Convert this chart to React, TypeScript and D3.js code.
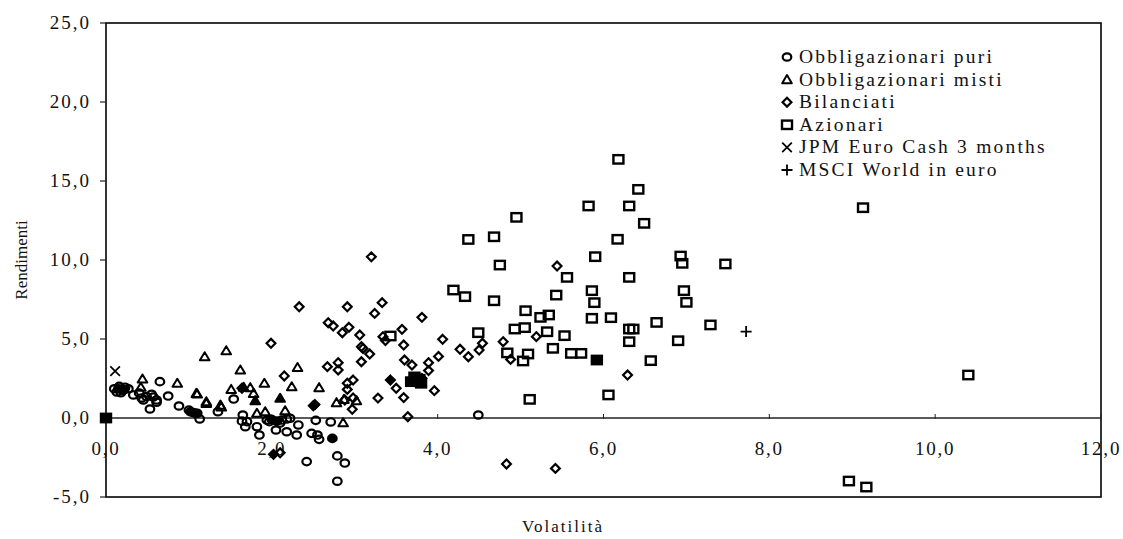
import React from "react";
import * as d3 from "d3";

// ---- data (Volatilità, Rendimenti) ----
const obbligazionariPuri: [number, number][] = [
  [0.10, 1.85], [0.13, 1.65], [0.16, 2.0], [0.2, 1.75], [0.23, 1.95], [0.27, 1.85], [0.18, 1.6],
  [0.33, 1.46], [0.4, 1.58], [0.43, 1.27], [0.45, 1.14], [0.49, 1.35], [0.53, 0.57], [0.57, 1.33],
  [0.61, 1.0], [0.61, 1.14], [0.65, 2.3], [0.55, 1.5], [0.75, 1.39], [0.88, 0.76],
  [1.0, 0.5], [1.05, 0.35], [1.1, 0.3], [1.13, -0.06], [1.35, 0.4], [1.54, 1.2],
  [1.64, -0.2], [1.65, 0.19], [1.7, -0.23], [1.68, -0.55], [1.82, -0.55], [1.85, -1.08], [1.94, -0.13],
  [1.97, -0.23], [2.05, -0.76], [2.1, -0.32], [2.12, -0.13], [2.18, -0.87], [2.18, -0.06], [2.22, -0.02],
  [2.3, -1.08], [2.32, -0.44], [2.42, -2.76], [2.48, -0.97], [2.53, -0.15], [2.55, -1.08], [2.57, -1.35],
  [2.71, -0.25], [2.79, -2.4], [2.88, -2.85], [2.79, -4.0], [4.49, 0.19],
];
const obbligazionariMisti: [number, number][] = [
  [0.44, 2.47], [0.42, 1.95], [0.86, 2.2], [1.09, 1.56], [1.1, 1.52], [1.21, 1.03], [1.21, 0.93],
  [1.19, 3.88], [1.45, 4.26], [1.38, 0.82], [1.39, 0.7], [1.62, 3.04], [1.51, 1.81], [1.74, 1.92],
  [1.78, 1.56], [1.82, 0.3], [1.92, 0.4], [1.91, 2.2], [2.16, 0.46], [2.24, 1.98], [2.31, 3.2],
  [2.57, 1.92], [2.78, 0.97], [2.87, 1.18], [3.02, 1.1], [2.86, -0.3],
];
const bilanciati: [number, number][] = [
  [1.64, 1.88], [1.99, 4.73], [2.15, 2.66], [2.1, -2.2], [2.33, 7.04], [2.52, 0.85], [2.67, 3.25],
  [2.68, 6.03], [2.74, 5.82], [2.8, 3.5], [2.8, 3.04], [2.85, 5.4], [2.91, 7.04], [2.88, 1.14],
  [2.91, 1.81], [2.91, 2.2], [2.98, 2.4], [2.97, 0.55], [2.98, 1.27], [2.93, 5.74], [3.06, 5.25],
  [3.08, 4.51], [3.08, 3.56], [3.1, 4.4], [3.18, 4.05], [3.2, 10.2], [3.24, 6.62], [3.28, 1.26],
  [3.33, 7.3], [3.34, 5.15], [3.37, 4.9], [3.5, 1.88], [3.57, 5.61], [3.59, 4.62], [3.6, 3.67],
  [3.69, 3.35], [3.59, 1.29], [3.64, 0.08], [3.81, 2.51], [3.81, 6.37], [3.89, 3.5], [3.89, 3.0],
  [3.96, 1.73], [4.01, 3.9], [4.06, 4.98], [4.27, 4.35], [4.37, 3.88], [4.5, 4.3], [4.54, 4.73],
  [4.79, 4.83], [4.88, 3.71], [4.83, -2.91], [5.19, 5.15], [5.42, -3.19], [5.44, 9.62], [6.29, 2.72],
];
const azionari: [number, number][] = [
  [3.43, 5.19], [4.19, 8.1], [4.33, 7.68], [4.37, 11.3], [4.49, 5.4], [4.68, 11.47], [4.68, 7.42],
  [4.75, 9.68], [4.84, 4.12], [4.93, 5.63], [4.95, 12.7], [5.03, 3.61], [5.05, 5.72], [5.06, 6.79],
  [5.09, 4.05], [5.11, 1.18], [5.24, 6.37], [5.32, 5.46], [5.34, 6.52], [5.39, 4.41], [5.43, 7.78],
  [5.53, 5.21], [5.56, 8.9], [5.61, 4.09], [5.73, 4.09], [5.82, 13.42], [5.86, 8.06], [5.89, 7.3],
  [5.86, 6.31], [5.9, 10.21], [6.06, 1.46], [6.09, 6.35], [6.17, 11.31], [6.18, 16.37], [6.31, 13.42],
  [6.31, 8.9], [6.31, 5.63], [6.36, 5.63], [6.31, 4.83], [6.42, 14.47], [6.49, 12.32], [6.57, 3.63],
  [6.64, 6.05], [6.9, 4.89], [6.93, 10.25], [6.95, 9.79], [6.97, 8.06], [7.0, 7.32], [7.29, 5.89],
  [7.47, 9.75], [8.96, -3.99], [9.13, 13.31], [9.17, -4.37], [10.4, 2.72],
];
const jpmEuroCash: [number, number][] = [[0.11, 2.97]];
const msciWorld: [number, number][] = [[7.72, 5.47]];

// filled (highlighted) markers
const puriPieni: [number, number][] = [[0.15, 1.85], [0.22, 1.8], [1.02, 0.4], [1.08, 0.3], [2.0, -0.1], [2.06, -0.2], [2.73, -1.29]];
const mistiPieni: [number, number][] = [[1.8, 1.1], [2.1, 1.25], [1.66, 1.95]];
const bilanciatiPieni: [number, number][] = [[3.43, 2.4], [2.02, -2.3], [2.5, 0.78]];
const azionariPieni: [number, number][] = [[0, 0], [5.92, 3.67], [3.68, 2.3], [3.78, 2.45], [3.72, 2.6], [3.8, 2.2]];

const xTicks = [0, 2, 4, 6, 8, 10, 12];
const yTicks = [-5, 0, 5, 10, 15, 20, 25];

const legendLabels = [
  "Obbligazionari puri",
  "Obbligazionari misti",
  "Bilanciati",
  "Azionari",
  "JPM Euro Cash 3 months",
  "MSCI World in euro",
];
const xTitle = "Volatilità";
const yTitle = "Rendimenti";

const W = 1123;
const H = 539;
const M = { left: 106, right: 1101, top: 23, bottom: 497 };
const FONT = "'Liberation Serif', 'Times New Roman', serif";

type Shape = "circle" | "triangle" | "diamond" | "square" | "x" | "plus";

function Marker({ shape, x, y, filled }: { shape: Shape; x: number; y: number; filled?: boolean }) {
  const fill = filled ? "#000" : "none";
  const sw = 2.2;
  switch (shape) {
    case "circle":
      return <ellipse cx={x} cy={y} rx={4.3} ry={3.7} fill={fill} stroke="#000" strokeWidth={sw} />;
    case "triangle":
      return (
        <path d={`M${x},${y - 4.5} L${x + 4.8},${y + 3.6} L${x - 4.8},${y + 3.6} Z`} fill={fill} stroke="#000" strokeWidth={2} strokeLinejoin="round" />
      );
    case "diamond":
      return <path d={`M${x},${y - 4.4} L${x + 4.4},${y} L${x},${y + 4.4} L${x - 4.4},${y} Z`} fill={fill} stroke="#000" strokeWidth={sw} />;
    case "square":
      return <rect x={x - 5} y={y - 4.2} width={10} height={8.4} fill={fill} stroke="#000" strokeWidth={2.4} />;
    case "x":
      return <path d={`M${x - 4.8},${y - 4.8} L${x + 4.8},${y + 4.8} M${x + 4.8},${y - 4.8} L${x - 4.8},${y + 4.8}`} stroke="#000" strokeWidth={1.7} />;
    case "plus":
      return <path d={`M${x - 5.5},${y} L${x + 5.5},${y} M${x},${y - 5.5} L${x},${y + 5.5}`} stroke="#000" strokeWidth={1.8} />;
  }
  return null;
}

export default function App() {
  const x = d3.scaleLinear().domain([0, 12]).range([M.left, M.right]);
  const y = d3.scaleLinear().domain([-5, 25]).range([M.bottom, M.top]);
  const fmt = (v: number) => d3.format(".1f")(v).replace(".", ",").replace("−", "-");

  const series: { data: [number, number][]; shape: Shape; filled?: boolean }[] = [
    { data: obbligazionariPuri, shape: "circle" },
    { data: obbligazionariMisti, shape: "triangle" },
    { data: bilanciati, shape: "diamond" },
    { data: azionari, shape: "square" },
    { data: jpmEuroCash, shape: "x" },
    { data: msciWorld, shape: "plus" },
    { data: puriPieni, shape: "circle", filled: true },
    { data: mistiPieni, shape: "triangle", filled: true },
    { data: bilanciatiPieni, shape: "diamond", filled: true },
    { data: azionariPieni, shape: "square", filled: true },
  ];
  const legendShapes: Shape[] = ["circle", "triangle", "diamond", "square", "x", "plus"];
  const y0 = y(0);

  return (
    <svg width={W} height={H} style={{ position: "absolute", left: 0, top: 0, background: "#fff" }} fontFamily={FONT}>
      <rect x={0} y={0} width={W} height={H} fill="#fff" />
      {/* plot border */}
      <rect x={M.left} y={M.top} width={M.right - M.left} height={M.bottom - M.top} fill="none" stroke="#111" strokeWidth={1.7} />
      {/* zero line (x axis) */}
      <line x1={M.left} x2={M.right} y1={y0} y2={y0} stroke="#222" strokeWidth={1.4} />
      {xTicks.map((t) => (
        <g key={"xt" + t}>
          <line x1={x(t)} x2={x(t)} y1={y0 - 4} y2={y0 + 1} stroke="#222" strokeWidth={1} />
          <text x={x(t)} y={y0 + 37} textAnchor="middle" fontSize={19} letterSpacing={1.8} fill="#111">
            {fmt(t)}
          </text>
        </g>
      ))}
      {yTicks.map((t) => (
        <g key={"yt" + t}>
          <line x1={M.left - 6} x2={M.left} y1={y(t)} y2={y(t)} stroke="#222" strokeWidth={1.2} />
          <text x={M.left - 15} y={y(t) + 6} textAnchor="end" fontSize={19} letterSpacing={2} fill="#111">
            {fmt(t)}
          </text>
        </g>
      ))}
      {/* axis titles */}
      <text x={563} y={532} textAnchor="middle" fontSize={17} letterSpacing={2} fill="#111">
        {xTitle}
      </text>
      <text transform={`translate(27,260) rotate(-90)`} textAnchor="middle" fontSize={17} fill="#111">
        {yTitle}
      </text>
      {/* points */}
      {series.map((s, i) => (
        <g key={"s" + i}>
          {s.data.map((d, j) => (
            <Marker key={j} shape={s.shape} x={x(d[0])} y={y(d[1])} filled={s.filled} />
          ))}
        </g>
      ))}
      {/* legend */}
      {legendLabels.map((lab, i) => {
        const ly = 57 + i * 22.6;
        return (
          <g key={"lg" + i}>
            <Marker shape={legendShapes[i]} x={787} y={ly} />
            <text x={799} y={ly + 6} fontSize={19.5} letterSpacing={2.2} fill="#111">
              {lab}
            </text>
          </g>
        );
      })}
    </svg>
  );
}
